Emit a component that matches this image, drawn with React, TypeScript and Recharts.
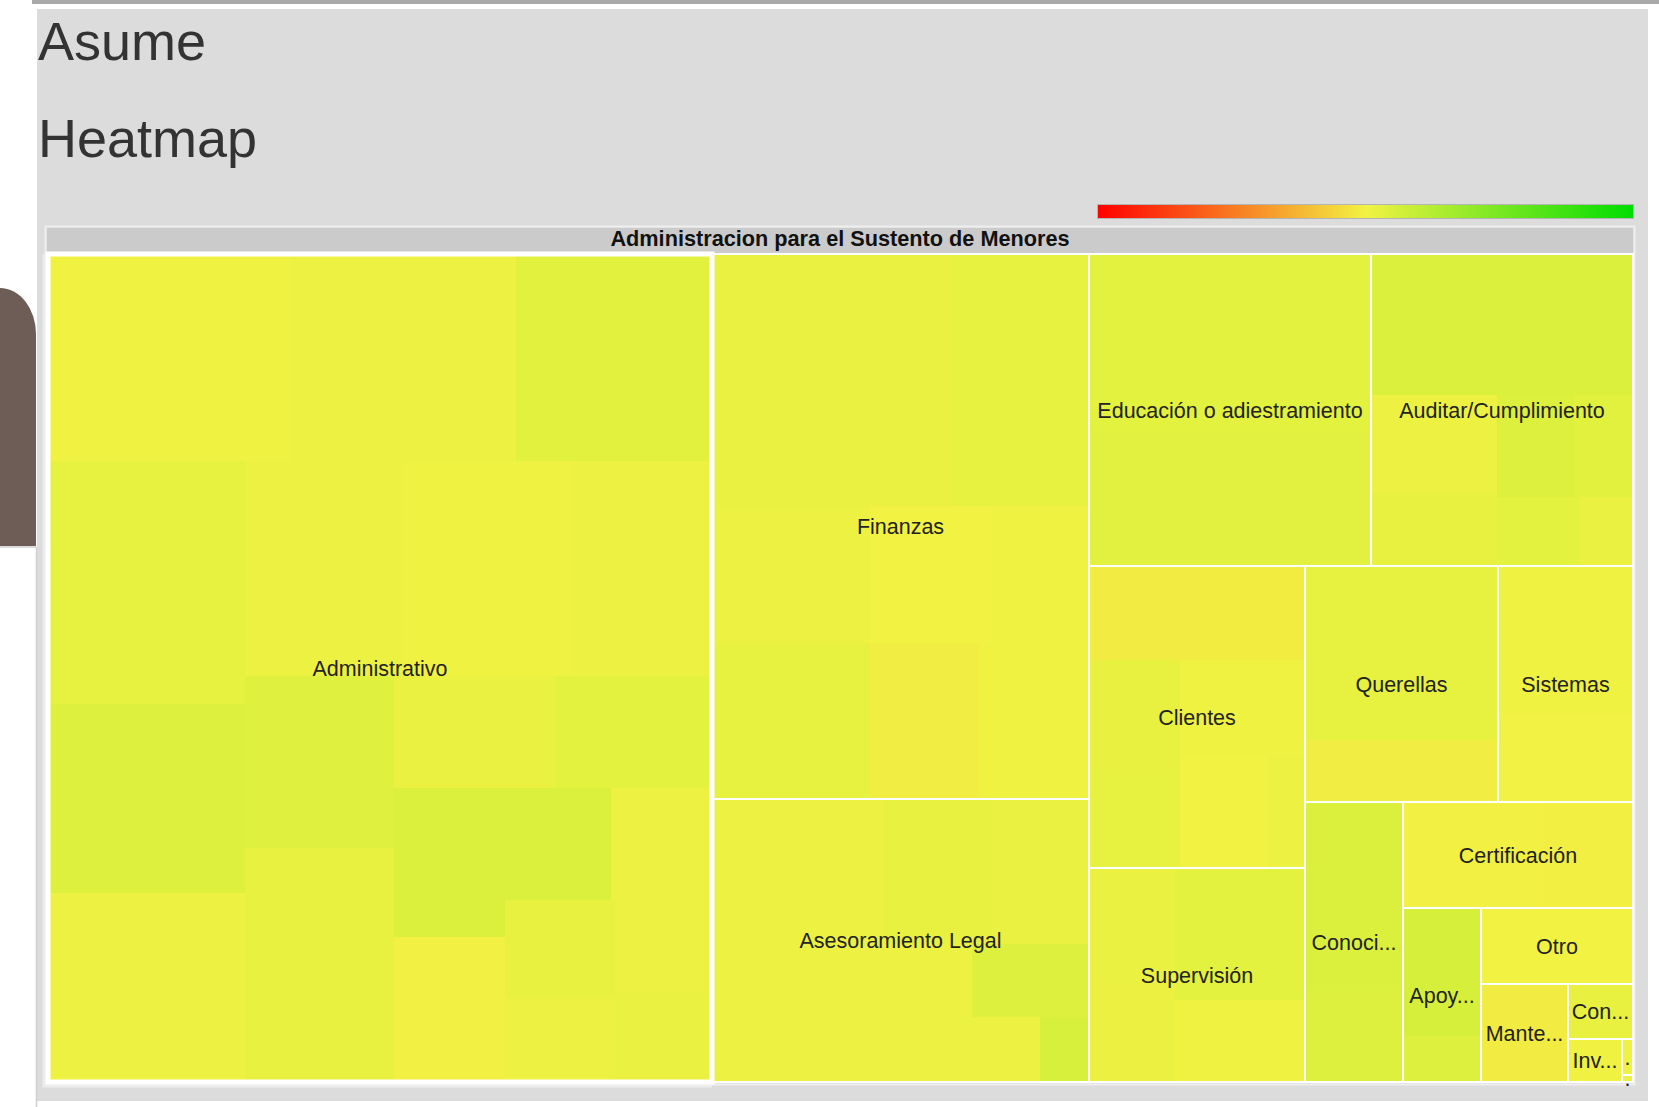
import React from 'react';
import { Treemap } from 'recharts';

const categories = [
  'Administrativo',
  'Finanzas',
  'Asesoramiento Legal',
  'Educación o adiestramiento',
  'Auditar/Cumplimiento',
  'Clientes',
  'Supervisión',
  'Querellas',
  'Sistemas',
  'Conocimiento',
  'Certificación',
  'Apoyo Técnico',
  'Otro',
  'Mantenimiento',
  'Contratos',
  'Investigación',
  'Planificación',
  'Recursos Humanos',
];

// size of every sub-area inside each category
const cellSizes = [
  [506, 465, 405, 479, 372, 372, 339, 363, 305, 257, 348, 181, 175, 166, 160, 119, 113, 107, 93, 89, 88],
  [608, 342, 216, 246, 166, 135, 170, 173],
  [488, 158, 139, 121, 86, 44, 31],
  [500, 378],
  [370, 124, 92, 79, 59, 57, 36],
  [110, 93, 100, 89, 121, 98, 40],
  [95, 89, 172, 107],
  [335, 119],
  [200, 119],
  [184, 89],
  [150, 93],
  [100, 36],
  [116],
  [85],
  [36],
  [23],
  [4],
  [0.8],
];

// colour score of every sub-area (0 = red, 50 = yellow, 100 = green)
const cellScores = [
  [50.5, 51, 53.5, 52.5, 54.5, 51, 51, 50.5, 51, 54, 52, 51.5, 53, 55, 49.5, 55, 51, 52, 51, 51, 51.5],
  [51.5, 52.5, 51, 52.5, 50, 50.5, 49, 50.5],
  [51, 52, 51.5, 51, 54.5, 51, 55.5],
  [53, 53.3],
  [55, 51, 52, 54.5, 53.5, 53, 51.5],
  [48.5, 48.7, 52, 52.2, 50.5, 50, 51],
  [51.5, 51.3, 53, 50.5],
  [52.5, 49],
  [50.5, 50.3],
  [55, 54.5],
  [49.5, 49.3],
  [56, 54.5],
  [50],
  [48.5],
  [52],
  [50.5],
  [50.5],
  [51],
];

// categories grouped in the strips the heatmap lays out one after another
const strips = [[0], [1, 2], [3, 4], [5, 6], [7, 8], [9], [10], [11], [12], [13], [14], [15], [16, 17]];

const title = 'Administracion para el Sustento de Menores';
const highlighted = 'Administrativo';

const scaleStops: [number, number[]][] = [
  [0, [255, 0, 0]],
  [50, [242, 242, 67]],
  [100, [0, 221, 0]],
];

function scoreColor(s: number): string {
  let i = 0;
  while (i < scaleStops.length - 2 && s > scaleStops[i + 1][0]) i++;
  const [s0, c0] = scaleStops[i];
  const [s1, c1] = scaleStops[i + 1];
  const t = Math.min(1, Math.max(0, (s - s0) / (s1 - s0)));
  const c = c0.map((v, k) => Math.round(v + (c1[k] - v) * t));
  return `rgb(${c[0]},${c[1]},${c[2]})`;
}

const catNode = (i: number) => ({
  name: categories[i],
  kind: 'cat',
  children: cellSizes[i].map((v, j) => ({
    name: `${categories[i]} ${j + 1}`,
    kind: 'cell',
    value: v,
    score: cellScores[i][j],
  })),
});

const stripNode = (s: number[]) =>
  s.length === 1 ? catNode(s[0]) : { name: 'strip', kind: 'group', children: s.map(catNode) };

function buildTree() {
  let node: any = stripNode(strips[strips.length - 1]);
  for (let k = strips.length - 2; k >= 0; k--) {
    node = { name: 'group', kind: 'group', children: [stripNode(strips[k]), node] };
  }
  return node.children;
}

const treeData = buildTree();

const FONT = '"Liberation Sans", Arial, sans-serif';
const LABEL_SIZE = 21.5;

let ctx: CanvasRenderingContext2D | null = null;
function measure(text: string): number {
  if (!ctx) ctx = document.createElement('canvas').getContext('2d');
  if (!ctx) return text.length * LABEL_SIZE * 0.55;
  ctx.font = `${LABEL_SIZE}px "Liberation Sans"`;
  return ctx.measureText(text).width;
}

function fitLabel(text: string, width: number): string {
  const avail = width - 6;
  if (measure(text) <= avail) return text;
  for (let i = text.length - 1; i > 0; i--) {
    const t = text.slice(0, i).trimEnd() + '...';
    if (measure(t) <= avail) return t;
  }
  return '.';
}

const CellContent = (props: any) => {
  const { x, y, width, height, kind, score } = props;
  if (kind !== 'cell') return <g />;
  return (
    <rect x={x} y={y} width={width} height={height} fill={scoreColor(score)} shapeRendering="crispEdges" />
  );
};

const FrameContent = (props: any) => {
  const { x, y, width, height, kind, name } = props;
  if (kind !== 'cat') return <g />;
  const hi = name === highlighted;
  return (
    <g>
      {hi && (
        <path
          d={`M${x - 4},${y} L${x - 4},${y + height + 4} L${x + width},${y + height + 4}`}
          fill="none"
          stroke="#ececec"
          strokeWidth={3}
        />
      )}
      <rect x={x} y={y} width={width} height={height} fill="none" stroke="#fff" strokeWidth={hi ? 5 : 2} />
      <text
        x={x + width / 2}
        y={y + height / 2 + 7.5}
        textAnchor="middle"
        fontSize={LABEL_SIZE}
        fontFamily={FONT}
        fill="#222"
      >
        {fitLabel(name, width)}
      </text>
    </g>
  );
};

const TM_W = 1585;
const TM_H = 828;

export default function App() {
  return (
    <div
      style={{
        position: 'absolute',
        left: 0,
        top: 0,
        width: 1659,
        height: 1107,
        background: '#fff',
        overflow: 'hidden',
        fontFamily: FONT,
      }}
    >
      <style>{'.tm-overlay svg { overflow: visible !important; }'}</style>
      <svg width={1659} height={1107} style={{ position: 'absolute', left: 0, top: 0 }}>
        <defs>
          <linearGradient id="scaleGrad" x1="0" y1="0" x2="1" y2="0">
            {scaleStops.map(([s, c]) => (
              <stop key={s} offset={`${s}%`} stopColor={`rgb(${c[0]},${c[1]},${c[2]})`} />
            ))}
          </linearGradient>
        </defs>
        <rect x={32} y={0} width={1627} height={4} fill="#a9a9a9" />
        <rect x={37} y={9} width={1611} height={1092} fill="#dcdcdc" />
        <path d="M0,288 A36,46 0 0 1 36,334 L36,546 L0,546 Z" fill="#6e5d56" />
        <line x1={0} y1={547} x2={36.5} y2={547} stroke="#cfcfcf" strokeWidth={1.5} />
        <line x1={36.5} y1={547} x2={36.5} y2={1107} stroke="#cfcfcf" strokeWidth={1.5} />
        <text x={38} y={60} fontSize={54} fill="#333" fontFamily={FONT}>
          Asume
        </text>
        <text x={38} y={157} fontSize={54} fill="#333" fontFamily={FONT}>
          Heatmap
        </text>
        <rect x={1097.5} y={204.5} width={536} height={14} fill="url(#scaleGrad)" stroke="#b4b4b4" strokeWidth={1} />
        <rect x={45.5} y={226.5} width={1589} height={858} fill="none" stroke="#eeeeee" strokeWidth={2} />
        <rect x={47} y={228} width={1586} height={25} fill="#cbcbcb" />
        <text x={840} y={246} textAnchor="middle" fontSize={21.7} fontWeight="bold" fill="#111" fontFamily={FONT}>
          {title}
        </text>
      </svg>
      <div style={{ position: 'absolute', left: 48, top: 254 }}>
        <Treemap
          width={TM_W}
          height={TM_H}
          data={treeData}
          dataKey="value"
          nameKey="name"
          aspectRatio={1}
          isAnimationActive={false}
          content={CellContent}
        />
      </div>
      <div className="tm-overlay" style={{ position: 'absolute', left: 48, top: 254 }}>
        <Treemap
          width={TM_W}
          height={TM_H}
          data={treeData}
          dataKey="value"
          nameKey="name"
          aspectRatio={1}
          isAnimationActive={false}
          content={FrameContent}
        />
      </div>
    </div>
  );
}
